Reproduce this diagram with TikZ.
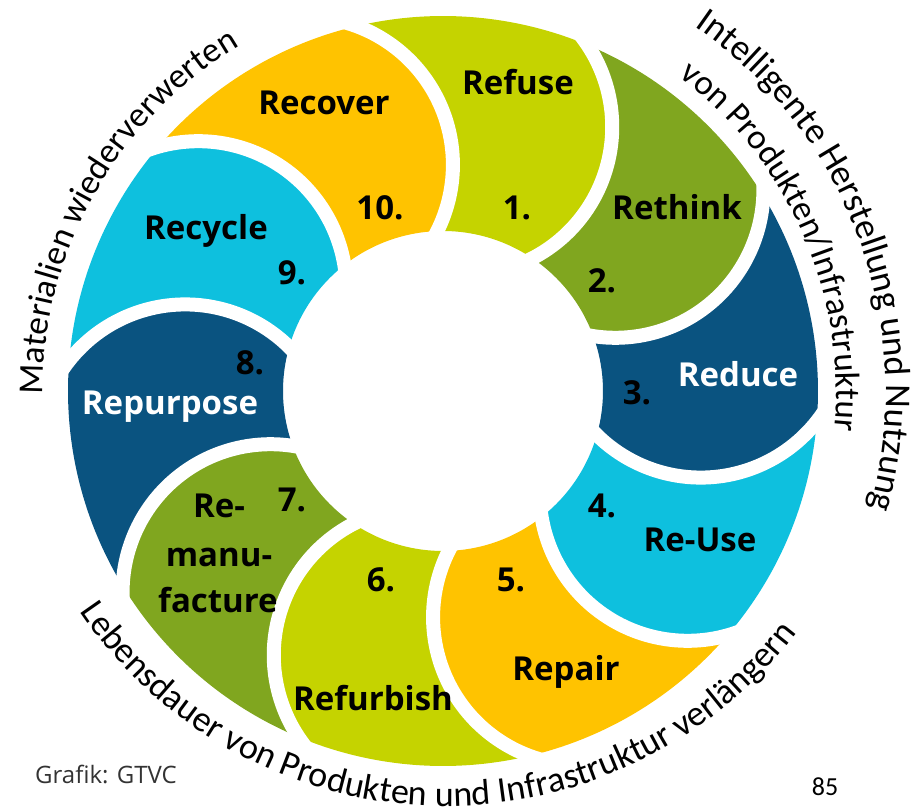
\documentclass[tikz,border=0pt]{standalone}
\usepackage{fontspec}
\setmainfont{Open Sans}
\newfontfamily\carl{Carlito}
\usetikzlibrary{decorations.text}
\definecolor{cYel}{RGB}{197,211,0}
\definecolor{cOli}{RGB}{128,166,31}
\definecolor{cBlu}{RGB}{10,83,128}
\definecolor{cCya}{RGB}{14,192,222}
\definecolor{cAmb}{RGB}{255,195,0}
\begin{document}
\begin{tikzpicture}[x=1pt,y=1pt,
  lab/.style={font=\fontsize{33}{33}\selectfont\bfseries, anchor=base, inner sep=0pt},
  sepline/.style={draw=white, line width=14pt}]
\useasboundingbox (-443,-420) rectangle (479,391);
\def\Ro{375}\def\Ri{160}\def\Dq{265}\def\Rq{148}
\def\Ao{103.33}\def\Ai{92.06}\def\Aq{121.4}\def\Bs{69.59}\def\Be{-26.61}
% petals
\foreach \i/\col in {1/cYel,2/cOli,3/cBlu,4/cCya,5/cAmb,6/cYel,7/cOli,8/cBlu,9/cCya,10/cAmb}{
  \pgfmathsetmacro\pa{-36*(\i-1)}
  \pgfmathsetmacro\pb{-36*\i}
  \pgfmathsetmacro\oa{\Ao+\pa}\pgfmathsetmacro\ob{\Ao+\pb}
  \pgfmathsetmacro\ia{\Ai+\pa}\pgfmathsetmacro\ib{\Ai+\pb}
  \pgfmathsetmacro\sa{\Bs+\pa}\pgfmathsetmacro\sb{\Bs+\pb}
  \pgfmathsetmacro\ea{\Be+\pa}\pgfmathsetmacro\eb{\Be+\pb}
  \fill[\col] (\oa:\Ro) arc[start angle=\oa, end angle=\ob, radius=\Ro]
     arc[start angle=\sb, end angle=\eb, radius=\Rq]
     arc[start angle=\ib, end angle=\ia, radius=\Ri]
     arc[start angle=\ea, end angle=\sa, radius=\Rq] -- cycle;
}
% separators
\foreach \k in {0,...,9}{
  \pgfmathsetmacro\pk{-36*\k}
  \pgfmathsetmacro\qa{\Aq+\pk}
  \pgfmathsetmacro\ss{\Bs+\pk+6}
  \pgfmathsetmacro\se{\Be+\pk-10}
  \coordinate (q\k) at (\qa:\Dq);
  \draw[sepline] (q\k) ++(\ss:\Rq) arc[start angle=\ss, end angle=\se, radius=\Rq];
}
% labels
\node[lab] (refuse) at (75,296) {Refuse};
\node[lab] (n1) at (74,171) {1.};
\node[lab] (rethink) at (234,171) {Rethink};
\node[lab] (n2) at (159,98) {2.};
\node[lab,text=white] (reduce) at (295,4) {Reduce};
\node[lab] (n3) at (194,-14) {3.};
\node[lab] (n4) at (159,-127) {4.};
\node[lab] (reuse) at (257,-161) {Re-Use};
\node[lab] (n5) at (68,-201) {5.};
\node[lab] (repair) at (123,-290) {Repair};
\node[lab] (n6) at (-62,-201) {6.};
\node[lab] (refurbish) at (-70,-319) {Refurbish};
\node[lab] (n7) at (-151,-121) {7.};
\node[lab] (reman1) at (-224,-127) {Re-};
\node[lab] (reman2) at (-224,-176) {manu-};
\node[lab] (reman3) at (-225,-222) {facture};
\node[lab] (n8) at (-193,16) {8.};
\node[lab,text=white] (repurpose) at (-273,-24) {Repurpose};
\node[lab] (recycle) at (-237,151) {Recycle};
\node[lab] (n9) at (-151,106) {9.};
\node[lab] (recover) at (-119,276) {Recover};
\node[lab] (n10) at (-63,171) {10.};
% curved texts
\path[decorate, decoration={text along path, text align=center,
  text={|\carl\fontsize{35}{35}\selectfont|Materialien wiederverwerten}}]
  (190.5:400) arc[start angle=190.5, end angle=110.5, radius=400];
\path[decorate, decoration={text along path, text align=center,
  text={|\carl\fontsize{36.5}{36.5}\selectfont|Intelligente Herstellung und Nutzung}}]
  (60.5:443) arc[start angle=60.5, end angle=-20.5, radius=443];
\path[decorate, decoration={text along path, text align=center,
  text={|\carl\fontsize{35}{35}\selectfont|von Produkten/Infrastruktur}}]
  (63.7:393) arc[start angle=63.7, end angle=-16.3, radius=393];
\coordinate (bc) at (3,27);
\path[decorate, decoration={text along path, text align=center,
  text={|\carl\fontsize{36}{36}\selectfont|Lebensdauer von Produkten und Infrastruktur verlängern}}]
  (bc) ++(206.3:442) arc[start angle=206.3, end angle=330.3, radius=442];
% footer
\node[anchor=base west, inner sep=0pt, font=\fontsize{24}{24}\selectfont, text=black!80] (credit) at (-408,-392) {Grafik: GTVC};
\node[anchor=base, inner sep=0pt, font=\carl\fontsize{26}{26}\selectfont] (page) at (382,-404) {85};
\end{tikzpicture}
\end{document}
